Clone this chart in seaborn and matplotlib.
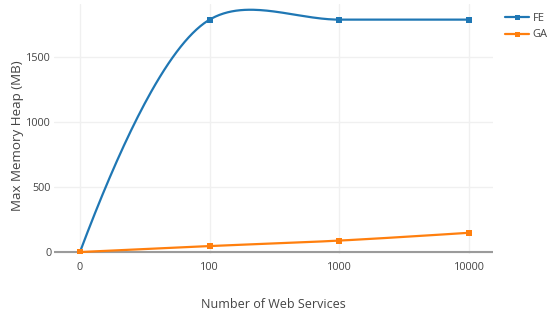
import numpy as np
import pandas as pd
import matplotlib
matplotlib.use("Agg")
import matplotlib.pyplot as plt
from matplotlib.lines import Line2D
import seaborn as sns

# Values per number of web services
services = ["0", "100", "1000", "10000"]
fe_heap = [0, 1785, 1785, 1785]
ga_heap = [0, 46, 88, 148]

series = [("FE", fe_heap, "#1f77b4"), ("GA", ga_heap, "#ff7f0e")]

sns.set_style("white")
plt.rcParams["font.family"] = ["Open Sans", "DejaVu Sans"]

W, H = 553, 320
fig = plt.figure(figsize=(W / 100, H / 100), dpi=100)
left, right, top, bottom = 54, 493, 4, 254
ax = fig.add_axes([left / W, 1 - bottom / H, (right - left) / W, (bottom - top) / H])

pos = np.arange(len(services))
ax.set_xlim(-0.2, 3.185)
ax.set_ylim(-15, 1905)


def tangent(p0, p1, p2, s=1.0):
    d1 = p0 - p1
    d2 = p2 - p1
    d1a = np.hypot(*d1) ** 0.5
    d2a = np.hypot(*d2) ** 0.5
    num = (d2a * d2a * d1 - d1a * d1a * d2) * s
    den1 = 3 * d2a * (d1a + d2a)
    den2 = 3 * d1a * (d1a + d2a)
    a = p1 + (num / den1 if den1 else 0)
    b = p1 - (num / den2 if den2 else 0)
    return a, b


def spline(px):
    """Smooth open spline through pixel points (Catmull-Rom style)."""
    n = len(px)
    tans = [tangent(px[i - 1], px[i], px[i + 1]) for i in range(1, n - 1)]
    t = np.linspace(0, 1, 60)[:, None]
    out = []
    # first quadratic
    c = tans[0][0]
    out.append((1 - t) ** 2 * px[0] + 2 * (1 - t) * t * c + t ** 2 * px[1])
    for i in range(2, n - 1):
        c1 = tans[i - 2][1]
        c2 = tans[i - 1][0]
        out.append((1 - t) ** 3 * px[i - 1] + 3 * (1 - t) ** 2 * t * c1
                   + 3 * (1 - t) * t ** 2 * c2 + t ** 3 * px[i])
    c = tans[-1][1]
    out.append((1 - t) ** 2 * px[n - 2] + 2 * (1 - t) * t * c + t ** 2 * px[n - 1])
    return np.vstack(out)


frames = []
for name, vals, color in series:
    disp = ax.transData.transform(np.column_stack([pos, vals]))
    curve = ax.transData.inverted().transform(spline(disp))
    frames.append(pd.DataFrame({"x": curve[:, 0], "y": curve[:, 1], "series": name}))
curves = pd.concat(frames, ignore_index=True)
points = pd.concat([pd.DataFrame({"x": pos, "y": v, "series": n}) for n, v, _ in series],
                   ignore_index=True)
palette = {n: c for n, _, c in series}

# zero line and grid
ax.axhline(0, color="#9b9b9b", lw=1.5, zorder=1)
sns.lineplot(data=curves, x="x", y="y", hue="series", palette=palette, sort=False,
             estimator=None, lw=1.6, legend=False, ax=ax, zorder=3)
sns.scatterplot(data=points, x="x", y="y", hue="series", palette=palette, marker="s",
                s=18, linewidth=0, legend=False, ax=ax, zorder=4)

ax.set_xticks(pos)
ax.set_xticklabels(services)
ax.set_yticks([0, 500, 1000, 1500])
ax.set_yticklabels(["0", "500", "1000", "1500"])
ax.grid(True, color="#f0f0f0", lw=1)
ax.set_axisbelow(True)
for sp in ax.spines.values():
    sp.set_visible(False)
ax.tick_params(axis="both", length=0, labelsize=7.8, colors="#444444")
ax.tick_params(axis="y", pad=2)
ax.tick_params(axis="x", pad=6)
ax.set_xlim(-0.2, 3.185)
ax.set_ylim(-15, 1905)

ax.set_xlabel("Number of Web Services", fontsize=9, color="#444444", labelpad=18)
ax.set_ylabel("Max Memory Heap (MB)", fontsize=9.6, color="#444444")
# place the y title by figure pixel position
ax.yaxis.set_label_coords((18 - left) / (right - left), (bottom - 136) / (bottom - top))
ax.yaxis.label.set_verticalalignment("center")

handles = [Line2D([], [], color=c, lw=1.6, marker="s", ms=3.6, mew=0) for _, _, c in series]
fig.legend(handles, [n for n, _, _ in series], loc="upper left",
           bbox_to_anchor=(505 / W, 1 - 13 / H), frameon=False, fontsize=8,
           handlelength=2.2, handletextpad=0.3, labelspacing=0.49, borderaxespad=0,
           borderpad=0, labelcolor="#444444")

fig.savefig("out.png", dpi=100, facecolor="white")
